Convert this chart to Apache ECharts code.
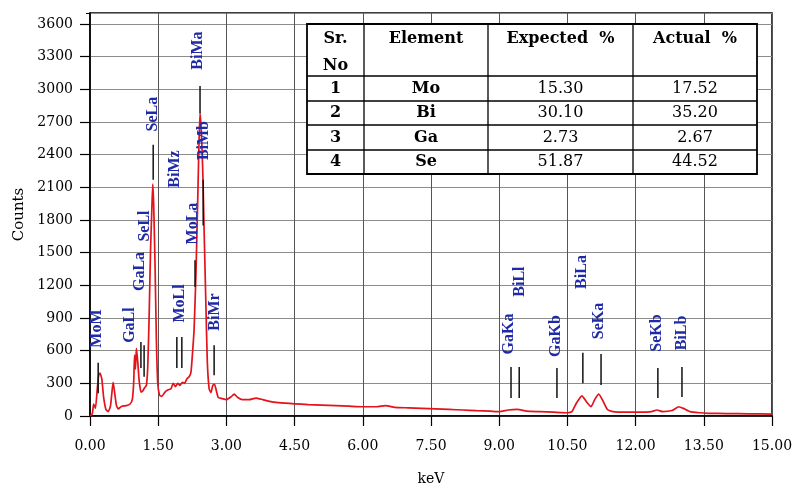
<!DOCTYPE html>
<html><head><meta charset="utf-8">
<script src="https://cdn.jsdelivr.net/npm/echarts@6/dist/echarts.min.js"></script>
<style>html,body{margin:0;padding:0;background:#fff}#c{width:795px;height:488px}</style>
</head><body><div id="c"></div>
<script>
// Spectrum (keV, counts)
const energy = [0.00,0.05,0.08,0.12,0.16,0.19,0.22,0.26,0.30,0.35,0.40,0.45,0.49,0.51,0.54,0.58,0.62,0.70,0.80,0.88,0.93,0.96,0.98,1.00,1.02,1.05,1.08,1.12,1.16,1.20,1.24,1.27,1.30,1.33,1.36,1.38,1.40,1.43,1.46,1.49,1.53,1.58,1.65,1.72,1.78,1.83,1.88,1.93,1.98,2.03,2.08,2.13,2.18,2.22,2.25,2.29,2.33,2.37,2.40,2.42,2.45,2.48,2.51,2.55,2.58,2.62,2.66,2.70,2.74,2.78,2.82,2.90,3.00,3.10,3.17,3.25,3.35,3.50,3.65,3.80,4.00,4.20,4.50,4.80,5.10,5.40,5.70,6.00,6.30,6.50,6.70,7.00,7.30,7.60,7.90,8.20,8.50,8.80,9.00,9.20,9.40,9.60,9.90,10.20,10.50,10.60,10.70,10.82,10.92,11.02,11.10,11.19,11.28,11.38,11.50,11.80,12.10,12.35,12.47,12.60,12.80,12.95,13.05,13.20,13.40,13.60,14.00,14.50,15.00];
const counts = [0,20,110,70,250,370,395,340,170,60,40,90,250,310,220,100,65,90,95,110,150,300,560,430,620,500,330,220,230,260,280,450,900,1500,1900,2130,1950,1400,700,300,190,180,220,240,250,300,270,300,280,310,300,340,360,400,550,800,1300,2000,2550,2780,2600,2250,1700,1000,500,250,215,280,290,230,170,160,150,175,200,170,150,150,165,150,130,120,112,105,100,95,90,85,85,95,80,75,70,65,60,55,50,45,40,55,60,45,40,35,30,40,120,185,130,85,150,200,140,60,40,35,35,40,55,40,50,85,70,40,30,25,22,20,18];

// Peak labels (name, keV, counts at label centre)
const peakNames = ['MoM','GaLl','GaLa','SeLl','SeLa','BiMz','MoLa','BiMa','BiMb','MoLl','BiMr','GaKa','BiLl','GaKb','BiLa','SeKa','SeKb','BiLb'];
const peakLabelE = [0.15,0.88,1.10,1.21,1.39,1.87,2.27,2.37,2.51,1.98,2.75,9.22,9.46,10.25,10.82,11.19,12.47,13.02];
const peakLabelC = [803,835,1327,1744,2772,2267,1767,3355,2529,1033,955,753,1234,734,1322,872,762,762];

// Peak marker lines (keV, lower counts, upper counts)
const markerE  = [0.18,1.12,1.19,1.39,1.91,2.02,2.31,2.42,2.49,2.73,9.26,9.44,10.27,10.84,11.24,12.49,13.02];
const markerLo = [210,440,360,2170,440,440,1185,2780,1750,375,165,165,165,300,285,165,175];
const markerHi = [490,680,650,2490,725,725,1430,3030,2170,650,450,450,440,580,570,440,450];

// Axis ticks
const xMin = 0, xMax = 15, xStep = 1.5;
const yMin = 0, yMax = 3700, yStep = 300;

// Table
const tableHeader = ['Sr.\nNo','Element','Expected  %','Actual  %'];
const srNo = ['1','2','3','4'];
const elements = ['Mo','Bi','Ga','Se'];
const expectedPct = ['15.30','30.10','2.73','51.87'];
const actualPct = ['17.52','35.20','2.67','44.52'];

const chart = echarts.init(document.getElementById('c'), null, {renderer:'canvas'});

const spectrum = energy.map((e,i)=>[e,counts[i]]);
const labelData = peakNames.map((n,i)=>[peakLabelE[i], peakLabelC[i]]);
const markerData = markerE.map((e,i)=>[e, markerLo[i], markerHi[i]]);

// table graphics
const tX = 307, tY = 24, tW = 450, tH = 150;
const colX = [307,364,488,633,757];
const rowY = [24,76,101,125,150,174];
const g = [];
g.push({type:'rect', shape:{x:tX,y:tY,width:tW,height:tH}, style:{fill:'#fff', stroke:'#000', lineWidth:1.8}, z:100});
for (let i=1;i<colX.length-1;i++) g.push({type:'line', shape:{x1:colX[i],y1:tY,x2:colX[i],y2:tY+tH}, style:{stroke:'#000',lineWidth:1.3}, z:101});
for (let j=1;j<rowY.length-1;j++) g.push({type:'line', shape:{x1:tX,y1:rowY[j],x2:tX+tW,y2:rowY[j]}, style:{stroke:'#000',lineWidth:1.3}, z:101});
const cx = i => (colX[i]+colX[i+1])/2;
tableHeader.forEach((h,i)=>{
  const multi = h.indexOf('\n')>=0;
  g.push({type:'text', x:cx(i), y: multi ? 52 : 39, z:102,
    style:{text:h, fill:'#000', font:'bold 16px "DejaVu Serif"', align:'center', verticalAlign:'middle', lineHeight:27}});
});
const rows = [srNo, elements, expectedPct, actualPct];
for (let r=0;r<4;r++){
  const yc = (rowY[r+1]+rowY[r+2])/2;
  rows.forEach((col,i)=>{
    const bold = i<2;
    g.push({type:'text', x:cx(i), y:yc, z:102,
      style:{text:col[r], fill:'#000', font:(bold?'bold ':'')+'16px "DejaVu Serif"', align:'center', verticalAlign:'middle'}});
  });
}

const labelFont = {fontFamily:'DejaVu Serif', fontSize:14, color:'#000'};

chart.setOption({
  animation:false,
  backgroundColor:'#fff',
  grid:{left:90, right:23, top:13, bottom:72, outerBoundsMode:'none', containLabel:false,
    show:true, borderColor:'#000', borderWidth:1.5, backgroundColor:'transparent'},
  xAxis:[{
    type:'value', min:xMin, max:xMax, interval:xStep,
    name:'keV', nameLocation:'middle', nameGap:56,
    nameTextStyle:{fontFamily:'DejaVu Serif', fontSize:14, color:'#000'},
    axisLine:{show:true, lineStyle:{color:'#000', width:1.5}},
    axisTick:{show:true, inside:false, length:10, lineStyle:{color:'#000', width:1.2}},
    axisLabel:Object.assign({margin:23, formatter:v=>v.toFixed(2)}, labelFont),
    splitLine:{show:true, lineStyle:{color:'#555', width:1}}
  },{
    type:'value', min:xMin, max:xMax, interval:xStep, position:'top',
    axisLine:{show:false}, axisLabel:{show:false}, splitLine:{show:false},
    axisTick:{show:true, inside:true, length:4, lineStyle:{color:'#000'}}
  }],
  yAxis:[{
    type:'value', min:yMin, max:yMax, interval:yStep,
    name:'Counts', nameLocation:'middle', nameGap:62, nameRotate:90,
    nameTextStyle:{fontFamily:'DejaVu Serif', fontSize:15, color:'#000'},
    axisLine:{show:true, lineStyle:{color:'#000', width:1.5}},
    axisTick:{show:true, inside:false, length:10, lineStyle:{color:'#000', width:1.2}},
    axisLabel:Object.assign({margin:17, showMaxLabel:false, formatter:v=>String(v)}, labelFont),
    splitLine:{show:true, lineStyle:{color:'#8c8c8c', width:1}}
  },{
    type:'value', min:yMin, max:yMax, interval:yStep, position:'right',
    axisLine:{show:false}, axisLabel:{show:false}, splitLine:{show:false},
    axisTick:{show:true, inside:true, length:4, lineStyle:{color:'#000'}}
  }],
  series:[{
    type:'line', data:spectrum, showSymbol:false, smooth:0.15,
    lineStyle:{color:'#e3121b', width:1.7}, z:5
  },{
    type:'custom', data:markerData, z:6,
    renderItem:(params, api)=>{
      const p1 = api.coord([api.value(0), api.value(1)]);
      const p2 = api.coord([api.value(0), api.value(2)]);
      return {type:'line', shape:{x1:p1[0],y1:p1[1],x2:p2[0],y2:p2[1]}, style:{stroke:'#111', lineWidth:1.5}};
    }
  },{
    type:'custom', data:labelData, z:7,
    renderItem:(params, api)=>{
      const p = api.coord([api.value(0), api.value(1)]);
      return {type:'text', x:p[0], y:p[1], rotation:Math.PI/2,
        style:{text:peakNames[params.dataIndex], font:'bold 16px "Liberation Serif"', fill:'#1f2aa6', align:'center', verticalAlign:'middle'}};
    }
  }],
  graphic:g
});
</script>
</body></html>
